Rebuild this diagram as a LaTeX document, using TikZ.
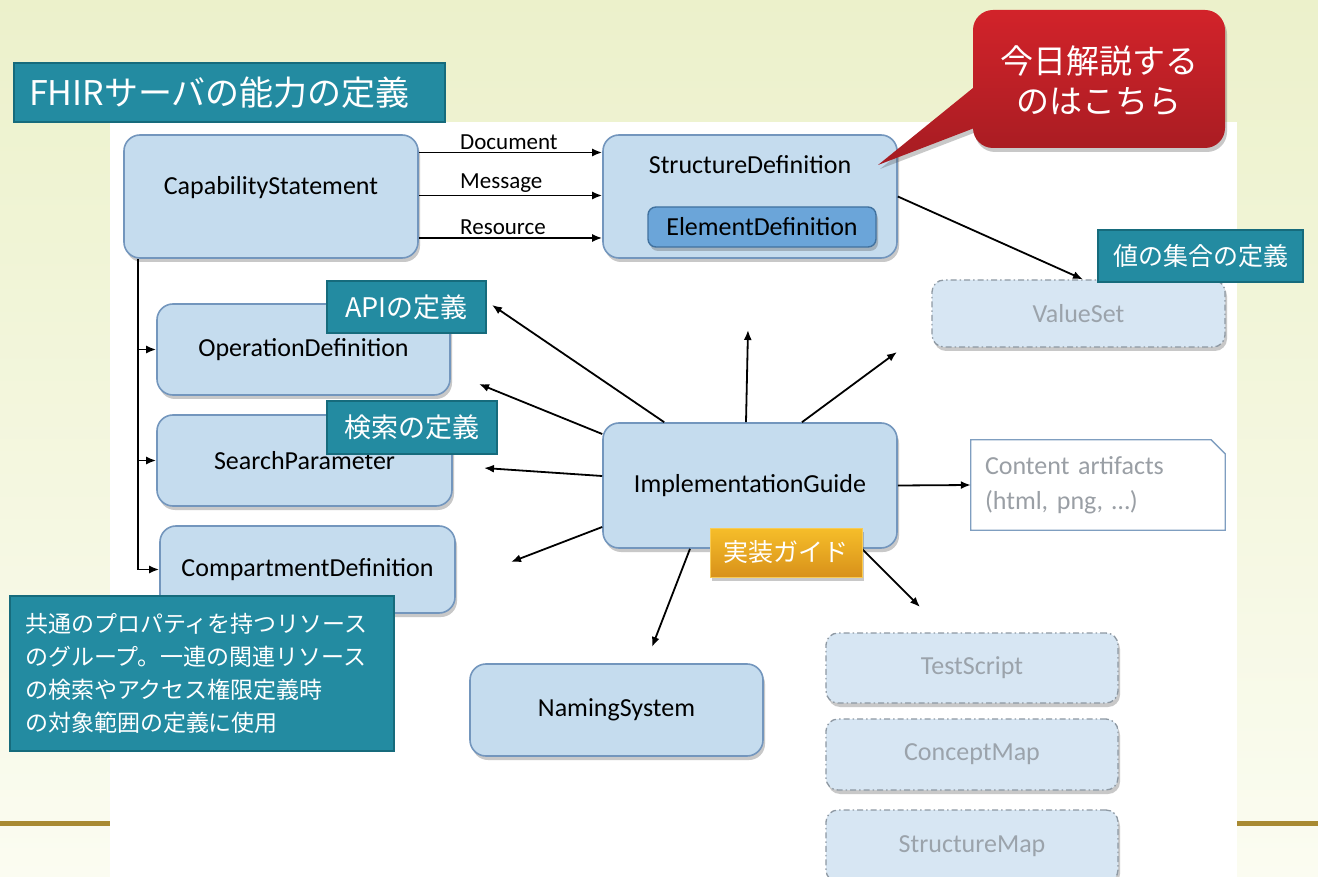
\documentclass[tikz,border=0pt]{standalone}
\usepackage{fontspec}
\setmainfont{Carlito}
\newfontfamily\jp{Noto Sans CJK JP}
\usetikzlibrary{arrows.meta,shadows,calc}
\definecolor{bgtop}{HTML}{ECF1CB}
\definecolor{bgbot}{HTML}{FBFCF1}
\definecolor{boxfill}{HTML}{C5DCEE}
\definecolor{boxedge}{HTML}{7396BD}
\definecolor{edfill}{HTML}{6BA5D9}
\definecolor{ededge}{HTML}{41729F}
\definecolor{ghostfill}{HTML}{D7E6F3}
\definecolor{ghostedge}{HTML}{8E99A3}
\definecolor{ghosttext}{HTML}{9BA3AB}
\definecolor{tealfill}{HTML}{238BA1}
\definecolor{tealedge}{HTML}{166B7C}
\definecolor{calltop}{HTML}{D2232A}
\definecolor{callbot}{HTML}{A51C22}
\definecolor{goldtop}{HTML}{F6BE2A}
\definecolor{goldbot}{HTML}{D8911A}
\definecolor{goldline}{HTML}{A88A32}
\definecolor{cagray}{HTML}{9A9FA5}
\definecolor{caedge}{HTML}{7F9EC0}
\begin{document}
\begin{tikzpicture}[x=1pt,y=-1pt,
  shd/.style={drop shadow={shadow xshift=2pt, shadow yshift=-4pt, opacity=0.3, fill=black!70}},
  bluebox/.style={draw=boxedge, line width=1.6pt, fill=boxfill, rounded corners=16pt, font=\fontsize{26}{30}\selectfont, inner sep=0pt, shd},
  ghost/.style={draw=ghostedge, line width=1.3pt, dash pattern=on 6pt off 3pt on 1.5pt off 3pt, fill=ghostfill, rounded corners=12pt, text=ghosttext, font=\fontsize{26}{30}\selectfont, inner sep=0pt, shd},
  tealbox/.style={fill=tealfill, draw=tealedge, line width=2.5pt, text=white, inner sep=0pt},
  arr/.style={-{Latex[length=10pt,width=8pt]}, line width=1.8pt},
  lbl/.style={font=\fontsize{23}{26}\selectfont, inner sep=2pt},
]
\useasboundingbox (0,0) rectangle (1318,877);
% background
\shade[top color=bgtop, bottom color=bgbot] (0,0) rectangle (1318,877);
\fill[white] (110,122) rectangle (1237,877);
\fill[goldline] (0,821) rectangle (110,826);
\fill[goldline] (1237,821) rectangle (1318,826);

% main boxes
\node[bluebox, minimum width=294pt, minimum height=123pt, text depth=22pt] (cap) at (271,196.5) {CapabilityStatement};
\node[bluebox, minimum width=294pt, minimum height=123pt] (sd) at (750,196.5) {};
\node[font=\fontsize{26}{30}\selectfont] (sdt) at (750,165) {StructureDefinition};
\node[draw=ededge, line width=1.4pt, fill=edfill, rounded corners=8pt, minimum width=228pt, minimum height=40pt, inner sep=0pt, font=\fontsize{26}{30}\selectfont, shd] (ed) at (762,227) {ElementDefinition};
\node[bluebox, minimum width=293pt, minimum height=91pt] (od) at (303.5,349.5) {OperationDefinition};
\node[bluebox, minimum width=295pt, minimum height=91pt] (sp) at (304.5,460.5) {SearchParameter};
\node[bluebox, minimum width=295pt, minimum height=87pt] (cd) at (307.5,569.5) {CompartmentDefinition};
\node[bluebox, minimum width=294pt, minimum height=125pt] (ig) at (750,485.5) {ImplementationGuide};
\node[bluebox, minimum width=293pt, minimum height=92pt] (ns) at (616.5,710) {NamingSystem};
\node[ghost, minimum width=293pt, minimum height=67pt] (vs) at (1078.5,313.5) {ValueSet};
\node[ghost, minimum width=292pt, minimum height=70pt] (ts) at (972,668) {TestScript};
\node[ghost, minimum width=292pt, minimum height=71pt] (cm) at (972,754.5) {ConceptMap};
\node[ghost, minimum width=292pt, minimum height=72pt] (sm) at (972,846) {StructureMap};
\node[minimum width=254pt, minimum height=90pt, inner xsep=14pt, inner ysep=0pt, text width=226pt, align=left, text=cagray, font=\fontsize{26}{35}\selectfont] (ca) at (1098,485) {Content artifacts\\(html, png, …)};
\draw[caedge, line width=1.3pt] (ca.south west) -- (ca.north west) -- ([xshift=-14pt]ca.north east) -- ([yshift=-14pt]ca.north east) -- (ca.south east) -- cycle;

% connectors from CapabilityStatement
\draw[arr] ([yshift=44pt]cap.east) -- node[lbl, anchor=south west, pos=0.21] {Document} ([yshift=44pt]sd.west);
\draw[arr] ([yshift=1pt]cap.east) -- node[lbl, anchor=south west, pos=0.21] {Message} ([yshift=1pt]sd.west);
\draw[arr] ([yshift=-41.5pt]cap.east) -- node[lbl, anchor=south west, pos=0.21] {Resource} ([yshift=-41.5pt]sd.west);
\coordinate (trunk) at ([xshift=15pt]cap.south west);
\draw[arr] (trunk) |- (cd.west);
\draw[arr] (trunk |- od.west) -- (od.west);
\draw[arr] (trunk |- sp.west) -- (sp.west);
\draw[arr] (sd.east) -- ([xshift=4.5pt]vs.north);

% connectors from ImplementationGuide
\coordinate (e1) at (492,305);
\coordinate (e2) at (479,384);
\coordinate (e3) at (484,468);
\coordinate (e4) at (511,562);
\coordinate (e5) at (748,330);
\coordinate (e6) at (897,352);
\coordinate (e8) at (652,647);
\coordinate (e9) at (920,607);
\draw[arr] ([xshift=62pt]ig.north west) -- (e1);
\draw[arr] ([yshift=51.5pt]ig.west) -- (e2);
\draw[arr] ([yshift=9.5pt]ig.west) -- (e3);
\draw[arr] ([yshift=-41.5pt]ig.west) -- (e4);
\draw[arr] ([xshift=-4pt]ig.north) -- (e5);
\draw[arr] ([xshift=52pt]ig.north) -- (e6);
\draw[arr] (ig.east) -- (ca.west);
\draw[arr] ([xshift=-60pt]ig.south) -- (e8);
\draw[arr] ([xshift=112pt]ig.south) -- (e9);

% labels
\node[tealbox, text width=401pt, inner xsep=15pt, minimum height=59pt, align=left, font=\jp\fontsize{34}{38}\selectfont] (title) at (229.5,92.5) {FHIRサーバの能力の定義};
\node[tealbox, minimum width=159pt, minimum height=52pt, font=\jp\fontsize{27}{30}\selectfont] (api) at (406.5,307) {APIの定義};
\node[tealbox, minimum width=170pt, minimum height=53pt, font=\jp\fontsize{27}{30}\selectfont] (kensaku) at (412,427.5) {検索の定義};
\node[tealbox, minimum width=205pt, minimum height=52pt, font=\jp\fontsize{25}{28}\selectfont] (vsl) at (1200.5,256) {値の集合の定義};
\node[tealbox, text width=354pt, inner xsep=15pt, minimum height=155pt, align=left, font=\jp\fontsize{23}{33}\selectfont] (grp) at (202,673.5) {共通のプロパティを持つリソース\\のグループ。一連の関連リソース\\の検索やアクセス権限定義時\\の対象範囲の定義に使用};
\node[top color=goldtop, bottom color=goldbot, draw=goldtop!80!white, line width=1pt, minimum width=152pt, minimum height=49pt, inner sep=0pt, text=white, font=\jp\fontsize{25}{28}\selectfont, shd] (impl) at (786,552.5) {実装ガイド};

% callout
\path[top color=calltop, bottom color=callbot, shd, rounded corners=20pt] (973,10) rectangle (1225,148) [sharp corners] (973,88) -- (878,165) -- (990,122) -- cycle;
\node[text=white, align=center, font=\jp\fontsize{33}{40}\selectfont] (today) at (1099,81) {今日解説する\\のはこちら};
\end{tikzpicture}
\end{document}
